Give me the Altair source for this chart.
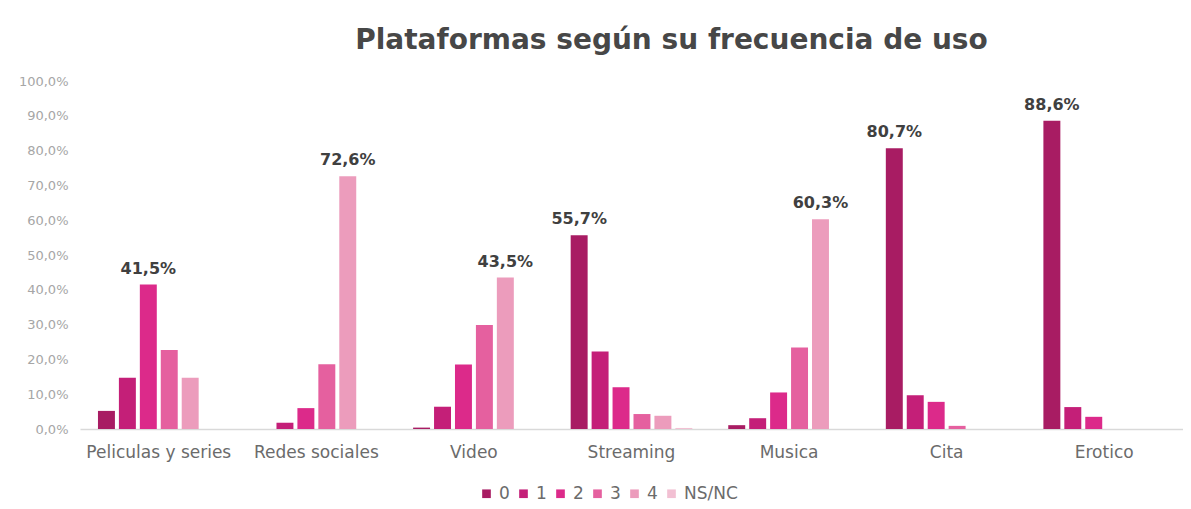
import altair as alt
import pandas as pd

categories = ["Peliculas y series", "Redes sociales", "Video", "Streaming", "Musica", "Cita", "Erotico"]
series = ["0", "1", "2", "3", "4", "NS/NC"]
values = {
    "Peliculas y series": [5.2, 14.7, 41.5, 22.7, 14.7, 0.0],
    "Redes sociales":     [0.0, 1.8, 6.0, 18.6, 72.6, 0.0],
    "Video":              [0.4, 6.4, 18.5, 29.9, 43.5, 0.0],
    "Streaming":          [55.7, 22.3, 12.0, 4.3, 3.8, 0.3],
    "Musica":             [1.1, 3.1, 10.5, 23.4, 60.3, 0.0],
    "Cita":               [80.7, 9.7, 7.8, 0.9, 0.0, 0.0],
    "Erotico":            [88.6, 6.3, 3.5, 0.0, 0.0, 0.0],
}
y_ticks = [0.0, 0.1, 0.2, 0.3, 0.4, 0.5, 0.6, 0.7, 0.8, 0.9, 1.0]
colors = ["#A81C63", "#C41F78", "#DC2A8A", "#E5609F", "#EC9CBC", "#F2C0D3"]

rows = []
for c in categories:
    vals = values[c]
    mx = max(vals)
    for s, v in zip(series, vals):
        rows.append({"cat": c, "serie": s, "v": v / 100.0,
                     "lab": (f"{v:.1f}%".replace(".", ",")) if v == mx else ""})
df = pd.DataFrame(rows)

x = alt.X("cat:N", sort=categories, title=None,
          scale=alt.Scale(paddingInner=0.228, paddingOuter=0.114),
          axis=alt.Axis(labelAngle=0, ticks=False, domainColor="#D9D9D9", domainWidth=1.5,
                        labelColor="#6B6B6B", labelFontSize=17, labelFont="DejaVu Sans",
                        labelPadding=15))
xo = alt.XOffset("serie:N", sort=series, scale=alt.Scale(paddingInner=0.19, paddingOuter=0))
y = alt.Y("v:Q", title=None,
          scale=alt.Scale(domain=[0, 1]),
          axis=alt.Axis(values=y_ticks, grid=False, domain=False, ticks=False,
                        labelOverlap=False,
                        labelExpr="replace(format(datum.value, '.1%'), '.', ',')",
                        labelColor="#A6A6A6", labelFontSize=13, labelFont="DejaVu Sans",
                        labelPadding=12, minExtent=72, maxExtent=72))

base = alt.Chart(df)

bars = base.mark_bar().encode(
    x=x, xOffset=xo, y=y,
    color=alt.Color("serie:N", sort=series, title=None,
                    scale=alt.Scale(domain=series, range=colors),
                    legend=alt.Legend(orient="none", legendX=398, legendY=404, direction="horizontal",
                                      symbolType="square", symbolSize=75, symbolStrokeWidth=0,
                                      labelFontSize=17, labelColor="#6B6B6B", labelFont="DejaVu Sans",
                                      columnPadding=5, labelOffset=4)),
)

labels = base.mark_text(baseline="bottom", dy=-8, fontSize=16, fontWeight="bold",
                        font="DejaVu Sans", color="#404040").encode(
    x=x, xOffset=xo, y=y, text="lab:N")

chart = (bars + labels).properties(
    width=1103, height=348,
    padding={"left": 0, "right": 0, "top": 19, "bottom": 0},
    background="white",
    title=alt.Title("Plataformas según su frecuencia de uso", fontSize=28, fontWeight="bold",
                    font="DejaVu Sans", color="#474747", anchor="middle", dx=40, offset=20),
).configure_view(strokeWidth=0)

chart.save("out.html", embed_options={"renderer": "svg", "actions": False})
